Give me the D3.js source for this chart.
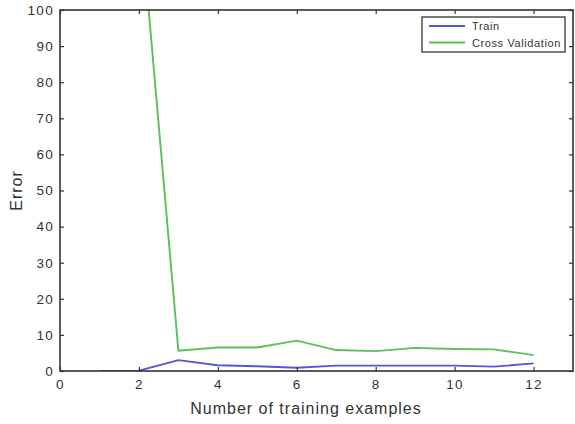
<!DOCTYPE html>
<html>
<head>
<meta charset="utf-8">
<script src="https://cdn.jsdelivr.net/npm/d3@7"></script>
<style>
  html, body { margin: 0; padding: 0; background: #fff; }
  svg { display: block; font-family: "Liberation Sans", Arial, sans-serif; }
</style>
</head>
<body>
<svg id="chart" width="575" height="424"></svg>
<script>
// Learning curve: training vs cross-validation error
const trainX = [1, 2, 3, 4, 5, 6, 7, 8, 9, 10, 11, 12];
const trainErr = [0.0, 0.1, 3.0, 1.6, 1.3, 0.9, 1.5, 1.5, 1.5, 1.5, 1.2, 2.1];
const cvX = [1, 2, 3, 4, 5, 6, 7, 8, 9, 10, 11, 12];
const cvErr = [160, 131, 5.6, 6.5, 6.5, 8.4, 5.8, 5.5, 6.4, 6.1, 6.0, 4.4];
const xTicks = [0, 2, 4, 6, 8, 10, 12];
const yTicks = [0, 10, 20, 30, 40, 50, 60, 70, 80, 90, 100];
const seriesNames = ["Train", "Cross Validation"];
const seriesColors = ["#5656d6", "#5cbf5c"];

const svg = d3.select("#chart");
const m = { left: 60, right: 2, top: 10, bottom: 53 };
const W = 575, H = 424;
const x = d3.scaleLinear().domain([0, 13]).range([m.left, W - m.right]);
const y = d3.scaleLinear().domain([0, 100]).range([H - m.bottom, m.top]);

svg.append("defs").append("clipPath").attr("id", "plotClip")
  .append("rect")
  .attr("x", x(0)).attr("y", y(100))
  .attr("width", x(13) - x(0)).attr("height", y(0) - y(100));

const line = d3.line().x(d => x(d[0])).y(d => y(d[1]));
const plot = svg.append("g").attr("clip-path", "url(#plotClip)");
plot.append("path")
  .datum(cvX.map((v, i) => [v, cvErr[i]]))
  .attr("d", line).attr("fill", "none")
  .attr("stroke", seriesColors[1]).attr("stroke-width", 1.9);
plot.append("path")
  .datum(trainX.map((v, i) => [v, trainErr[i]]))
  .attr("d", line).attr("fill", "none")
  .attr("stroke", seriesColors[0]).attr("stroke-width", 1.9);

// Axes with inward ticks on all four sides
const axisColor = "#333";
function styleAxis(g) {
  g.select(".domain").remove();
  g.selectAll(".tick line").attr("stroke", axisColor).attr("stroke-width", 1.2);
  g.selectAll(".tick text").attr("fill", "#333").attr("font-size", 13.5)
    .attr("letter-spacing", 1.3);
}
svg.append("g").attr("transform", `translate(0,${y(0)})`)
  .call(d3.axisBottom(x).tickValues(xTicks).tickSizeInner(-4).tickPadding(8).tickFormat(d3.format("d")))
  .call(styleAxis);
svg.append("g").attr("transform", `translate(0,${y(100)})`)
  .call(d3.axisTop(x).tickValues(xTicks).tickSizeInner(-4).tickFormat(""))
  .call(styleAxis);
svg.append("g").attr("transform", `translate(${x(0)},0)`)
  .call(d3.axisLeft(y).tickValues(yTicks).tickSizeInner(-4).tickPadding(6).tickFormat(d3.format("d")))
  .call(styleAxis);
svg.append("g").attr("transform", `translate(${x(13)},0)`)
  .call(d3.axisRight(y).tickValues(yTicks).tickSizeInner(-4).tickFormat(""))
  .call(styleAxis);

svg.append("rect")
  .attr("x", x(0)).attr("y", y(100))
  .attr("width", x(13) - x(0)).attr("height", y(0) - y(100))
  .attr("fill", "none").attr("stroke", axisColor).attr("stroke-width", 1.6);

// Axis titles
svg.append("text")
  .attr("x", 306).attr("y", 414)
  .attr("text-anchor", "middle").attr("font-size", 16).attr("letter-spacing", 1)
  .attr("fill", "#333")
  .text("Number of training examples");
svg.append("text")
  .attr("transform", `translate(22,${(y(0) + y(100)) / 2}) rotate(-90)`)
  .attr("text-anchor", "middle").attr("font-size", 16).attr("letter-spacing", 1)
  .attr("fill", "#333")
  .text("Error");

// Legend
const lg = svg.append("g").attr("transform", "translate(422,17)");
lg.append("rect").attr("width", 143).attr("height", 35)
  .attr("fill", "#fff").attr("stroke", "#222").attr("stroke-width", 1.2);
seriesNames.forEach((name, i) => {
  const yy = 9 + i * 16.5;
  lg.append("line").attr("x1", 7).attr("x2", 43).attr("y1", yy).attr("y2", yy)
    .attr("stroke", seriesColors[i]).attr("stroke-width", 1.9);
  lg.append("text").attr("x", 50).attr("y", yy + 4)
    .attr("font-size", 11).attr("letter-spacing", 0.6)
    .attr("fill", "#333").text(name);
});
</script>
</body>
</html>
